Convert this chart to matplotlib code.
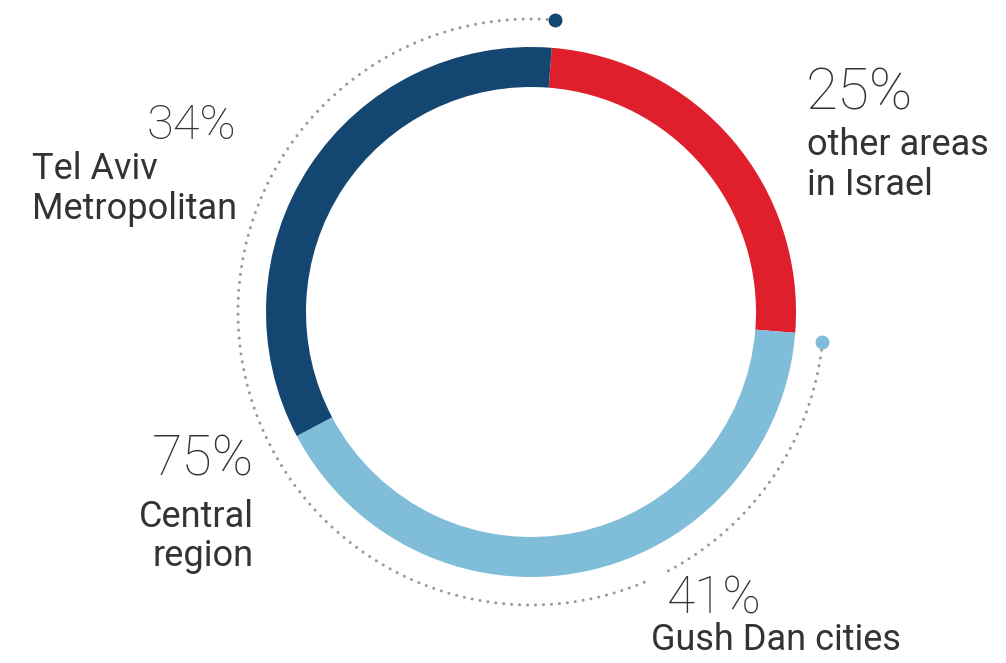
import matplotlib
matplotlib.use('Agg')
import numpy as np
import matplotlib.pyplot as plt

# shares, clockwise from the top
labels = ['other areas\nin Israel', 'Gush Dan cities', 'Tel Aviv\nMetropolitan']
shares = [25, 41, 34]
colors = ['#df1f2b', '#80bdd9', '#134671']
central_label = 'Central\nregion'
central_share = 75

W, H = 1006, 663
cx, cy = 531, H - 312
R, ring = 265, 40
start = 85.5  # degrees, matplotlib convention

fig = plt.figure(figsize=(W / 100, H / 100), dpi=100)
ax = fig.add_axes([0, 0, 1, 1])
ax.pie(shares, colors=colors, radius=R, center=(cx, cy), startangle=start,
       counterclock=False, wedgeprops=dict(width=ring, linewidth=0))
ax.set_xlim(0, W)
ax.set_ylim(0, H)
ax.set_aspect('equal')
ax.axis('off')

# dotted guide arcs with end dots
r_arc = 293
bounds = start - np.cumsum([0] + shares) * 3.6


def arc(a0, a1, dot_at=None, dot_color=None):
    t = np.radians(np.linspace(a0, a1, 300))
    ax.plot(cx + r_arc * np.cos(t), cy + r_arc * np.sin(t), color='#9a9a9a',
            lw=2.2, linestyle=(0, (0.01, 2.6)), dash_capstyle='round')
    if dot_at is not None:
        a = np.radians(dot_at)
        ax.plot(cx + r_arc * np.cos(a), cy + r_arc * np.sin(a), 'o',
                ms=10, color=dot_color, mec='none')


arc(bounds[0] - 0.2, 294, dot_at=bounds[0] - 0.2, dot_color=colors[2])
arc(bounds[1] - 1.4, -63, dot_at=bounds[1] - 1.4, dot_color=colors[1])

ink = '#333333'


def pct(x, y, value, size, ha):
    ax.text(x, H - y, f'{value}%', ha=ha, va='baseline', family='Roboto',
            fontweight='light', fontsize=size, color=ink)


def caption(x, y, text, ha, gap=40):
    for i, line in enumerate(text.split('\n')):
        ax.text(x, H - y - i * gap, line, ha=ha, va='baseline',
                family='Roboto', fontsize=26, color=ink)


pct(806, 110, shares[0], 42, 'left')
caption(807, 155, labels[0], 'left')

pct(236, 139, shares[2], 35, 'right')
caption(32, 179, labels[2], 'left')

pct(254, 476, central_share, 40, 'right')
caption(254, 527, central_label, 'right', gap=39)

pct(667, 613, shares[1], 37, 'left')
caption(651, 650, labels[1], 'left')

fig.savefig('out.png', dpi=100)
